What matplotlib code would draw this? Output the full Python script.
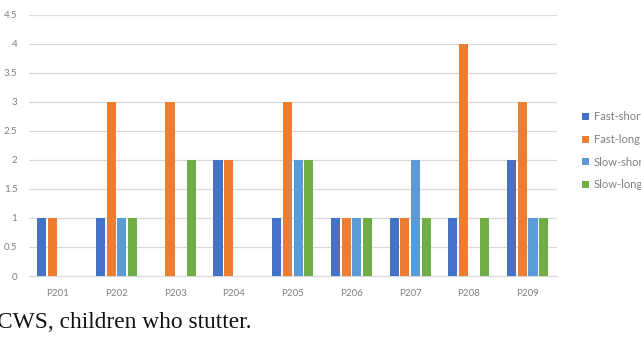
import numpy as np
import matplotlib
matplotlib.use("Agg")
import matplotlib.pyplot as plt

# Data
participants = ["P201", "P202", "P203", "P204", "P205", "P206", "P207", "P208", "P209"]
fast_short = [1, 1, 0, 2, 1, 1, 1, 1, 2]
fast_long = [1, 3, 3, 2, 3, 1, 1, 4, 3]
slow_short = [0, 1, 0, 0, 2, 1, 2, 0, 1]
slow_long = [0, 1, 2, 0, 2, 1, 1, 1, 1]
series_names = ["Fast-short", "Fast-long", "Slow-short", "Slow-long"]
yticks = [0, 0.5, 1, 1.5, 2, 2.5, 3, 3.5, 4, 4.5]

colors = ["#4472C4", "#ED7D31", "#5B9BD5", "#70AD47"]
txt_col = "#7F7F7F"
plt.rcParams["font.family"] = ["Lato", "DejaVu Sans"]

fig = plt.figure(figsize=(6.41, 3.42), dpi=100)
ax = fig.add_axes([28.5 / 641, 1 - 276 / 342, (557 - 28.5) / 641, (276 - 15) / 342])

x = np.arange(len(participants))
slot = 0.182
bw = 0.155
for i, (vals, name) in enumerate(zip([fast_short, fast_long, slow_short, slow_long], series_names)):
    ax.bar(x + (i - 1.5) * slot, vals, width=bw, color=colors[i], label=name, zorder=3)

ax.set_xlim(-0.5, len(participants) - 0.5)
ax.set_ylim(0, 4.5)
ax.set_yticks(yticks)
ax.set_yticklabels([f"{t:g}" for t in yticks])
ax.set_xticks(x)
ax.set_xticklabels(participants)
ax.tick_params(axis="both", length=0, labelsize=7, colors=txt_col)
ax.tick_params(axis="x", pad=9)
ax.tick_params(axis="y", pad=8)
ax.grid(axis="y", color="#D9D9D9", linewidth=0.9, zorder=0)
for s in ["top", "right", "left"]:
    ax.spines[s].set_visible(False)
ax.spines["bottom"].set_color("#D9D9D9")
ax.spines["bottom"].set_linewidth(0.9)

# legend sits partly past the right edge, as in the reference
leg = ax.legend(loc="center left", bbox_to_anchor=(582 / 641, 1 - 151 / 342),
                bbox_transform=fig.transFigure, frameon=False, fontsize=8,
                handlelength=0.6, handleheight=0.6, handletextpad=0.45,
                labelspacing=1.05, borderaxespad=0, borderpad=0)
for t in leg.get_texts():
    t.set_color(txt_col)

fig.text(-3 / 641, 1 - 323 / 342, "CWS, children who stutter.", family="Liberation Serif",
         fontsize=16.8, va="center", ha="left", color="#111111")

fig.savefig("out.png", dpi=100)
